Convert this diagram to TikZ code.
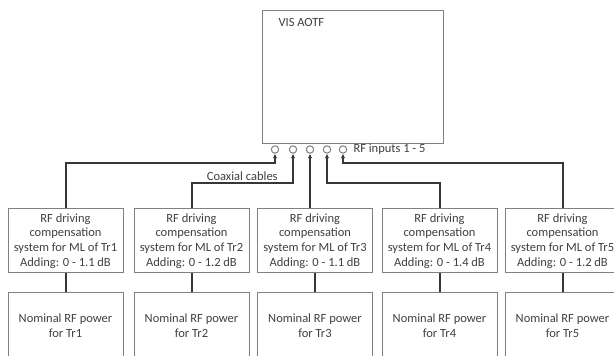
\documentclass[tikz,border=0pt]{standalone}
\usepackage{fontspec}
\setmainfont{Carlito}
\definecolor{boxGray}{RGB}{128,128,128}
\definecolor{cableDark}{RGB}{55,55,55}
\definecolor{textDark}{RGB}{64,64,64}
\usetikzlibrary{arrows.meta,positioning}

\begin{document}
\begin{tikzpicture}[x=1pt,y=1pt,
    font=\fontsize{12.5}{14.6}\selectfont, text=textDark,
    aotf/.style={draw=boxGray, line width=1pt, minimum width=181, minimum height=133, inner sep=0},
    port/.style={circle, draw=boxGray, line width=1pt, fill=white, minimum size=7.4, inner sep=0},
    compbox/.style={draw=boxGray, line width=1pt, minimum width=115, minimum height=64, inner sep=0, align=center},
    nombox/.style={draw=boxGray, line width=1pt, minimum width=115, minimum height=66, inner sep=0, align=center},
    cable/.style={draw=cableDark, line width=2pt, -{Latex[length=4.5pt,width=4.5pt]}},
    link/.style={draw=cableDark, line width=2pt}]
        \useasboundingbox (0,0) rectangle (614,356);
        % filter and its rf ports
        \node[aotf] (aotf) at (352.5,278.5) {};
        \node[anchor=west] (aotflbl) at (275,334) {VIS AOTF};
        \node[port] (p1) at (275,206.5) {};
        \node[port] (p2) at (293,206.5) {};
        \node[port] (p3) at (310,206.5) {};
        \node[port] (p4) at (327,206.5) {};
        \node[port] (p5) at (343,206.5) {};
        \node[anchor=west] (rfin) at (350,206.5) {RF inputs 1 - 5};
        % compensation systems
        \node[compbox] (comp1) at (65.5,115) {RF driving\\compensation\\system for ML of Tr1\\Adding: 0 - 1.1 dB};
        \node[compbox] (comp2) at (191.5,115) {RF driving\\compensation\\system for ML of Tr2\\Adding: 0 - 1.2 dB};
        \node[compbox] (comp3) at (315,115) {RF driving\\compensation\\system for ML of Tr3\\Adding: 0 - 1.1 dB};
        \node[compbox] (comp4) at (439.5,115) {RF driving\\compensation\\system for ML of Tr4\\Adding: 0 - 1.4 dB};
        \node[compbox] (comp5) at (562.5,115) {RF driving\\compensation\\system for ML of Tr5\\Adding: 0 - 1.2 dB};
        % nominal powers
        \node[nombox] (nom1) at (65.5,30) {Nominal RF power\\for Tr1};
        \node[nombox] (nom2) at (191.5,30) {Nominal RF power\\for Tr2};
        \node[nombox] (nom3) at (315,30) {Nominal RF power\\for Tr3};
        \node[nombox] (nom4) at (439.5,30) {Nominal RF power\\for Tr4};
        \node[nombox] (nom5) at (562.5,30) {Nominal RF power\\for Tr5};
        \draw[link] (nom1) -- (comp1);
        \draw[link] (nom2) -- (comp2);
        \draw[link] (nom3) -- (comp3);
        \draw[link] (nom4) -- (comp4);
        \draw[link] (nom5) -- (comp5);
        % coaxial cables
        \draw[cable] (comp1.north) -- ++(0,45) -| (p1.south);
        \draw[cable] (comp2.north) -- ++(0,25.5) -| node[pos=0.25,above,inner sep=1.5pt]{Coaxial cables} (p2.south);
        \draw[cable] (comp3.north -| p3) -- (p3.south);
        \draw[cable] (comp4.north) -- ++(0,25.5) -| (p4.south);
        \draw[cable] (comp5.north) -- ++(0,45) -| (p5.south);
      \end{tikzpicture}
\end{document}
